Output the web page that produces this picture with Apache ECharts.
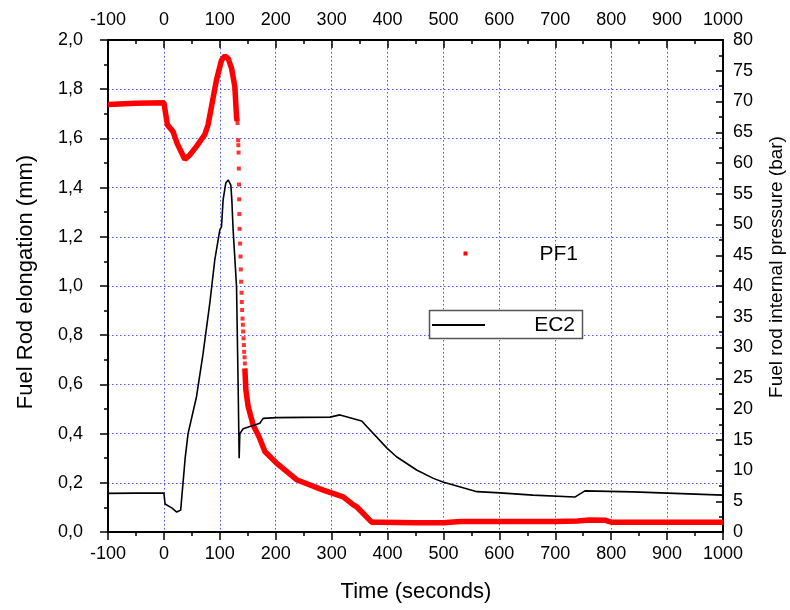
<!DOCTYPE html>
<html>
<head>
<meta charset="utf-8">
<script src="https://cdn.jsdelivr.net/npm/echarts@6/dist/echarts.min.js"></script>
<style>html,body{margin:0;padding:0;background:#fff;}#c{width:790px;height:610px;}</style>
</head>
<body>
<div id="c"></div>
<script>
// ---- data ----
const xTicks = [-100, 0, 100, 200, 300, 400, 500, 600, 700, 800, 900, 1000];
const pf1Time = [-100, -50, 0, 2, 6.3, 16.4, 23.6, 37.3, 46.3, 58.3, 73.1, 79, 85.1, 94, 103, 109, 114.9, 121, 126.9, 129.9, 131,
  138,
  144.8, 146.6, 150.7, 159.6, 171, 180.6, 201.5, 237.3, 285, 320.8, 338.7, 344.8, 371.6, 386.5, 450, 500, 530, 700, 740, 760, 790, 800, 1000];
const pf1Pressure = [69.5, 69.7, 69.8, 69.7, 66.2, 65.1, 63.2, 60.6, 61.3, 62.7, 64.6, 66.2, 69.2, 73.5, 76.7, 77.4, 77.0, 75.4, 72.4, 67.5, 66.8,
  null,
  26.6, 23.1, 20.4, 17.4, 15.3, 13.1, 11.2, 8.5, 6.8, 5.7, 4.4, 4.1, 1.6, 1.6, 1.5, 1.5, 1.7, 1.7, 1.8, 1.95, 1.9, 1.6, 1.6];
const pf1DotTime = [131.7, 132.8, 133.1, 133.5, 134.0, 134.3, 134.6, 134.9, 135.3, 136.3, 137.1, 137.6, 138.1, 138.9, 139.4, 139.9, 140.6, 141.2, 141.7, 142.4, 143.0, 143.5, 144.2, 144.8];
const pf1DotPressure = [66.5, 63.7, 62.9, 61.7, 59.1, 56.5, 54.1, 51.7, 49.3, 46.9, 44.8, 42.7, 40.7, 38.9, 37.4, 36.1, 34.7, 33.7, 32.6, 31.5, 30.4, 29.3, 28.4, 27.4];
const ec2Time = [-100, -50, 0, 2, 14, 23, 30, 38, 43.2, 58.3, 70.1, 82.1, 91, 100, 103, 105.9, 110.7, 114.9, 119.7, 121.5, 123.8, 129.9, 132.8, 134.6, 135.8, 141.7, 171.6, 177.5, 201.5, 297, 315, 353.7, 399, 416, 452, 482, 499, 560, 601, 660, 735, 753, 839, 1000];
const ec2Elong = [0.157, 0.158, 0.158, 0.114, 0.098, 0.081, 0.089, 0.30, 0.40, 0.55, 0.726, 0.93, 1.106, 1.228, 1.241, 1.35, 1.419, 1.431, 1.41, 1.35, 1.228, 0.997, 0.59, 0.30, 0.40, 0.42, 0.442, 0.462, 0.465, 0.467, 0.476, 0.451, 0.341, 0.306, 0.252, 0.218, 0.203, 0.164, 0.159, 0.150, 0.142, 0.167, 0.163, 0.150];

const FONT = 'Arial, "Liberation Sans", sans-serif';
const zip = (a, b) => a.map((v, i) => [v, b[i]]);

const chart = echarts.init(document.getElementById('c'), null, {renderer: 'canvas'});
const axisLine = {show: true, onZero: false, lineStyle: {color: '#000', width: 2}};
const label = {color: '#000', fontSize: 18, fontFamily: FONT};
const plain = v => String(v);
chart.setOption({
  animation: false,
  backgroundColor: '#fff',
  grid: {left: 108, right: 67, top: 40, bottom: 78},
  xAxis: [
    {type: 'value', position: 'bottom', min: -100, max: 1000, interval: 100,
     axisLine, axisTick: {show: true, inside: false, length: 8, lineStyle: {color: '#000', width: 1.5}},
     minorTick: {show: true, splitNumber: 2, length: 4, lineStyle: {color: '#000', width: 1.5}},
     axisLabel: Object.assign({margin: 13, formatter: plain}, label),
     splitLine: {show: true, lineStyle: {color: '#5555ff', width: 1, type: [1.5, 2.5]}}},
    {type: 'value', position: 'top', min: -100, max: 1000, interval: 100,
     axisLine, axisTick: {show: true, inside: true, length: 8, lineStyle: {color: '#000', width: 1.5}},
     minorTick: {show: true, splitNumber: 2, length: 4, lineStyle: {color: '#000', width: 1.5}},
     axisLabel: Object.assign({margin: 11, formatter: plain}, label),
     splitLine: {show: false}}
  ],
  yAxis: [
    {type: 'value', position: 'left', min: 0, max: 2, interval: 0.2,
     axisLine, axisTick: {show: true, inside: false, length: 8, lineStyle: {color: '#000', width: 1.5}},
     minorTick: {show: true, splitNumber: 2, length: 4, lineStyle: {color: '#000', width: 1.5}},
     axisLabel: Object.assign({margin: 25, formatter: v => v.toFixed(1).replace('.', ',')}, label),
     splitLine: {show: true, lineStyle: {color: '#5555ff', width: 1, type: [1.5, 2.5]}}},
    {type: 'value', position: 'right', min: 0, max: 80, interval: 5,
     axisLine, axisTick: {show: true, inside: true, length: 7, lineStyle: {color: '#000', width: 1.5}},
     minorTick: {show: true, splitNumber: 2, length: 4, lineStyle: {color: '#000', width: 1.5}},
     axisLabel: Object.assign({margin: 10, formatter: plain}, label),
     splitLine: {show: false}}
  ],
  series: [
    {name: 'PF1', type: 'line', xAxisIndex: 0, yAxisIndex: 1, data: zip(pf1Time, pf1Pressure),
     showSymbol: false, connectNulls: false, lineStyle: {color: '#ff0000', width: 5.5}, z: 2},
    {name: 'PF1', type: 'scatter', xAxisIndex: 0, yAxisIndex: 1, data: zip(pf1DotTime, pf1DotPressure),
     symbol: 'rect', symbolSize: 4, itemStyle: {color: '#ff0000'}, z: 2},
    {name: 'EC2', type: 'line', xAxisIndex: 0, yAxisIndex: 0, data: zip(ec2Time, ec2Elong),
     showSymbol: false, lineStyle: {color: '#000', width: 1.6}, z: 3}
  ],
  graphic: [
    {type: 'text', x: 26, y: 282, rotation: Math.PI / 2,
     style: {text: 'Fuel Rod elongation (mm)', font: '22px ' + FONT, fill: '#000', textAlign: 'center', textVerticalAlign: 'middle'}},
    {type: 'text', x: 777, y: 267, rotation: Math.PI / 2,
     style: {text: 'Fuel rod internal pressure (bar)', font: '19px ' + FONT, fill: '#000', textAlign: 'center', textVerticalAlign: 'middle'}},
    {type: 'text', x: 416, y: 592,
     style: {text: 'Time (seconds)', font: '22px ' + FONT, fill: '#000', textAlign: 'center', textVerticalAlign: 'middle'}},
    {type: 'rect', shape: {x: 463.5, y: 251.5, width: 4, height: 4}, style: {fill: '#ff0000'}},
    {type: 'text', x: 578, y: 254,
     style: {text: 'PF1', font: '21px ' + FONT, fill: '#000', textAlign: 'right', textVerticalAlign: 'middle'}},
    {type: 'rect', shape: {x: 429.5, y: 310.5, width: 153, height: 28}, style: {fill: '#fff', stroke: '#555', lineWidth: 1.5}, z: 10},
    {type: 'line', shape: {x1: 432, y1: 325, x2: 485, y2: 325}, style: {stroke: '#000', lineWidth: 2}, z: 11},
    {type: 'text', x: 575, y: 325, z: 11,
     style: {text: 'EC2', font: '21px ' + FONT, fill: '#000', textAlign: 'right', textVerticalAlign: 'middle'}}
  ]
});
</script>
</body>
</html>
